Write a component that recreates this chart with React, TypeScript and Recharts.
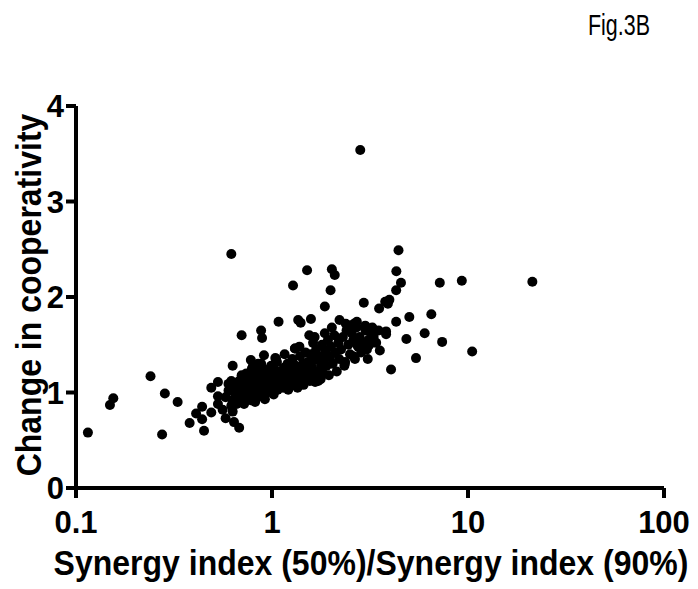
import { ScatterChart, Scatter, XAxis, YAxis, Label } from "recharts"

// synergy index ratio (x, log scale) vs change in cooperativity (y)
const xTicks = [0.1, 1, 10, 100]
const yTicks = [0, 1, 2, 3, 4]

const lowPoints: [number, number][] = [
  [0.115, 0.58], [0.149, 0.87], [0.155, 0.94], [0.24, 1.17], [0.275, 0.56],
  [0.284, 0.99], [0.33, 0.9], [0.38, 0.68], [0.41, 0.78], [0.44, 0.72],
  [0.44, 0.85], [0.45, 0.6], [0.49, 1.05], [0.49, 0.79], [0.53, 1.11],
  [0.53, 0.96], [0.53, 0.88], [0.58, 0.73], [0.6, 1.09], [0.63, 0.8],
  [0.64, 0.69], [0.66, 0.88], [0.68, 0.63], [0.63, 1.28], [0.62, 2.45],
  [0.7, 1.6], [0.78, 1.34], [0.88, 1.65], [0.89, 1.57], [0.91, 1.39],
]

const clusterPoints: [number, number][] = [
  [0.56, 0.82], [0.58, 0.95], [0.6, 1.02], [0.62, 0.86], [0.63, 0.92], [0.64, 1.05],
  [0.65, 0.98], [0.66, 1.1], [0.62, 1.12],
  [0.67, 0.9], [0.68, 0.97], [0.69, 1.03], [0.7, 1.08], [0.71, 0.93], [0.72, 1.14],
  [0.73, 1.0], [0.74, 1.2], [0.75, 0.96], [0.7, 1.18], [0.68, 1.12], [0.72, 0.88],
  [0.76, 1.05], [0.77, 1.12], [0.78, 0.92], [0.79, 1.25], [0.8, 1.0], [0.81, 1.16],
  [0.82, 1.08], [0.83, 1.22], [0.84, 0.95], [0.85, 1.3], [0.78, 1.18], [0.82, 0.9],
  [0.8, 1.28], [0.76, 0.98],
  [0.86, 1.02], [0.87, 1.18], [0.88, 1.1], [0.89, 0.96], [0.9, 1.25], [0.91, 1.05],
  [0.92, 1.14], [0.93, 0.99], [0.94, 1.2], [0.95, 1.08], [0.88, 1.3], [0.92, 0.93],
  [0.97, 1.12], [0.98, 1.02], [1.0, 1.18], [1.01, 1.06], [1.02, 0.98], [1.03, 1.24],
  [1.05, 1.1], [1.06, 1.32], [1.07, 1.03], [1.08, 1.16], [1.1, 1.22], [1.04, 1.36],
  [0.99, 1.28], [1.09, 1.08], [1.05, 1.35],
  [1.12, 1.12], [1.14, 1.05], [1.15, 1.26], [1.17, 1.18], [1.18, 1.1], [1.2, 1.3],
  [1.22, 1.15], [1.24, 1.08], [1.25, 1.22], [1.27, 1.35], [1.28, 1.12], [1.3, 1.2],
  [1.16, 1.4], [1.21, 1.03],
  [1.32, 1.28], [1.34, 1.14], [1.35, 1.05], [1.37, 1.22], [1.39, 1.38], [1.4, 1.18],
  [1.42, 1.1], [1.44, 1.3], [1.46, 1.24], [1.48, 1.42], [1.5, 1.15], [1.38, 1.48],
  [1.45, 1.08], [1.31, 1.46],
  [1.52, 1.32], [1.54, 1.2], [1.56, 1.12], [1.58, 1.4], [1.6, 1.26], [1.62, 1.52],
  [1.64, 1.18], [1.66, 1.34], [1.68, 1.45], [1.7, 1.22], [1.72, 1.12], [1.75, 1.38],
  [1.78, 1.28], [1.55, 1.6], [1.65, 1.58], [1.8, 1.5], [1.66, 1.11], [1.77, 1.14],
  [1.82, 1.2], [1.85, 1.35], [1.88, 1.44], [1.9, 1.28], [1.93, 1.55], [1.95, 1.18],
  [1.98, 1.38], [2.0, 1.48], [2.04, 1.3], [2.08, 1.6], [2.1, 1.42], [2.14, 1.22],
  [2.18, 1.52], [2.2, 1.35], [1.86, 1.62], [2.02, 1.68],
  [2.25, 1.45], [2.3, 1.58], [2.35, 1.3], [2.4, 1.65], [2.45, 1.5], [2.5, 1.4],
  [2.55, 1.62], [2.6, 1.55], [2.65, 1.35], [2.7, 1.68], [2.75, 1.48], [2.8, 1.58],
  [2.38, 1.72], [2.62, 1.72], [2.34, 1.28], [2.36, 1.32], [2.6, 1.38], [2.72, 1.5],
  [2.9, 1.52], [3.0, 1.65], [3.1, 1.55], [3.2, 1.62], [3.3, 1.58], [3.4, 1.52],
  [3.5, 1.65], [2.85, 1.42], [3.05, 1.45], [3.25, 1.68], [3.14, 1.5], [3.28, 1.63],
]

const highPoints: [number, number][] = [
  [1.08, 1.74], [1.28, 2.12], [1.31, 1.46], [1.36, 1.76], [1.4, 1.73], [1.51, 2.28],
  [1.58, 1.77], [1.86, 1.9], [1.99, 2.07], [2.02, 2.29], [2.09, 2.23], [2.21, 1.76],
  [2.52, 1.7], [2.71, 1.74], [2.82, 3.54], [2.94, 1.94], [2.99, 1.7], [3.08, 1.35],
  [3.52, 1.88], [3.55, 1.44], [3.78, 1.95], [3.82, 1.64], [3.82, 1.61], [3.9, 1.93],
  [3.97, 1.97], [4.05, 1.24], [4.3, 2.07], [4.3, 1.74], [4.31, 2.27], [4.42, 2.49],
  [4.55, 2.15], [4.85, 1.56], [5.02, 1.79], [5.43, 1.36], [6.01, 1.62], [6.5, 1.82],
  [7.18, 2.15], [7.38, 1.53], [9.3, 2.17], [10.5, 1.43], [21.3, 2.16],
]

const points = [...lowPoints, ...clusterPoints, ...highPoints].map(([x, y]) => ({ x, y }))

const font = "Arial, 'Liberation Sans', sans-serif"

function XTick(props: any) {
  const { x, y, payload } = props
  return (
    <text x={x} y={y + 33} textAnchor="middle" fontSize={31} fontWeight="bold" fontFamily={font} fill="#000">
      {String(payload.value)}
    </text>
  )
}

function YTick(props: any) {
  const { x, y, payload } = props
  return (
    <text x={x} y={y + 11} textAnchor="end" fontSize={31} fontWeight="bold" fontFamily={font} fill="#000">
      {String(payload.value)}
    </text>
  )
}

export default function App() {
  return (
    <div style={{ position: "absolute", left: 0, top: 0, background: "#fff" }}>
      <ScatterChart width={698} height={589} margin={{ top: 106, right: 34, bottom: 41, left: 0 }}>
        <XAxis
          dataKey="x"
          type="number"
          scale="log"
          domain={[0.1, 100]}
          ticks={xTicks}
          allowDataOverflow
          height={60}
          axisLine={{ stroke: "#000", strokeWidth: 4 }}
          tickLine={{ stroke: "#000", strokeWidth: 4 }}
          tickSize={10}
          tick={<XTick />}
        >
          <Label
            content={() => (
              <text x={0} y={0} transform="translate(371, 575) scale(1, 1.12)" textAnchor="middle" fontSize={32}
                fontWeight="bold" fontFamily={font} fill="#000">
                Synergy index (50%)/Synergy index (90%)
              </text>
            )}
          />
        </XAxis>
        <YAxis
          dataKey="y"
          type="number"
          domain={[0, 4]}
          ticks={yTicks}
          width={76}
          axisLine={{ stroke: "#000", strokeWidth: 4 }}
          tickLine={{ stroke: "#000", strokeWidth: 4 }}
          tickSize={10}
          tick={<YTick />}
        >
          <Label
            content={() => (
              <text x={0} y={0} transform="translate(41, 295) rotate(-90) scale(1, 1.12)" textAnchor="middle"
                fontSize={32} fontWeight="bold" fontFamily={font} fill="#000">
                Change in cooperativity
              </text>
            )}
          />
        </YAxis>
        <Scatter
          data={points}
          fill="#000"
          isAnimationActive={false}
          shape={(p: any) => <circle cx={p.cx} cy={p.cy} r={5} fill="#000" />}
        />
        <text x={619} y={35} textAnchor="middle" fontSize={30} fontFamily={font} textLength={62}
          lengthAdjust="spacingAndGlyphs" fill="#000">
          Fig.3B
        </text>
      </ScatterChart>
    </div>
  )
}
